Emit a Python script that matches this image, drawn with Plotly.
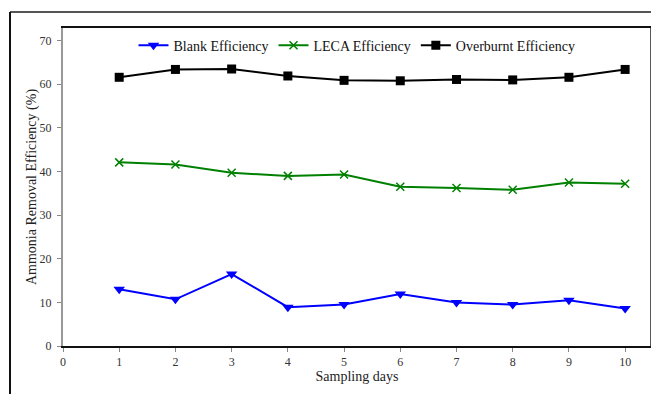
import plotly.graph_objects as go

days = [1, 2, 3, 4, 5, 6, 7, 8, 9, 10]
blank = [13.0, 10.7, 16.5, 8.9, 9.5, 11.9, 10.0, 9.5, 10.5, 8.6]
leca = [42.1, 41.6, 39.7, 39.0, 39.3, 36.5, 36.2, 35.8, 37.5, 37.2]
overburnt = [61.6, 63.4, 63.5, 61.9, 60.9, 60.8, 61.1, 61.0, 61.6, 63.4]
x_ticks = [0, 1, 2, 3, 4, 5, 6, 7, 8, 9, 10]
y_ticks = [0, 10, 20, 30, 40, 50, 60, 70]

FONT = "Liberation Serif"
OFF = 8  # page body margin offset
W, H = 659 - OFF, 394 - OFF
ML, MT = 63 - OFF, 28 - OFF
PR, PB = 651 - OFF, 346 - OFF
MR, MB = W - PR, H - PB
PW, PH = PR - ML, PB - MT

fig = go.Figure()
fig.add_trace(go.Scatter(x=days, y=blank, mode="lines+markers", name="Blank Efficiency",
                         line=dict(color="#0000ff", width=2),
                         marker=dict(symbol="triangle-down", size=10, color="#0000ff")))
fig.add_trace(go.Scatter(x=days, y=leca, mode="lines+markers", name="LECA Efficiency",
                         line=dict(color="#008000", width=2),
                         marker=dict(symbol="x-thin", size=8, color="#008000",
                                     line=dict(color="#008000", width=1.5))))
fig.add_trace(go.Scatter(x=days, y=overburnt, mode="lines+markers", name="Overburnt Efficiency",
                         line=dict(color="#000000", width=2),
                         marker=dict(symbol="square", size=9, color="#000000")))

def px_x(px):
    return (px - OFF - ML) / PW

def px_y(py):
    return (PB - (py - OFF)) / PH

shapes = [
    dict(type="line", xref="paper", yref="paper", x0=1, x1=1, y0=0, y1=1,
         line=dict(color="#222222", width=1.5)),
    dict(type="line", xref="paper", yref="paper", x0=px_x(10), x1=px_x(659), y0=px_y(12), y1=px_y(12),
         line=dict(color="#555555", width=2)),
    dict(type="line", xref="paper", yref="paper", x0=px_x(10), x1=px_x(10), y0=px_y(12), y1=px_y(394),
         line=dict(color="#111111", width=2)),
]

fig.update_layout(
    width=W, height=H,
    margin=dict(l=ML, r=MR, t=MT, b=MB),
    paper_bgcolor="white", plot_bgcolor="white",
    font=dict(family=FONT, color="#222222"),
    showlegend=True,
    legend=dict(orientation="h", x=0.5, xanchor="center", y=0.995, yanchor="top",
                font=dict(family=FONT, size=14, color="#111111"), bgcolor="rgba(0,0,0,0)",
                itemwidth=30),
    shapes=shapes,
    xaxis=dict(range=[0, 10.46], tickvals=x_ticks, ticktext=[str(t) for t in x_ticks],
               showgrid=False, zeroline=False, showline=True, linecolor="#111111", linewidth=1.5,
               mirror=True, ticks="outside", ticklen=4, tickcolor="#888888",
               tickfont=dict(family=FONT, size=12, color="#333333"),
               title=dict(text="Sampling days", font=dict(family=FONT, size=14, color="#222222"),
                          standoff=2)),
    yaxis=dict(range=[0, 72.9], tickvals=y_ticks, ticktext=[str(t) for t in y_ticks],
               showgrid=False, zeroline=False, showline=True, linecolor="#999999", linewidth=2,
               ticks="outside", ticklen=4, tickcolor="#888888", ticklabelstandoff=3,
               tickfont=dict(family=FONT, size=12, color="#333333"),
               title=dict(text="Ammonia Removal Efficiency (%)",
                          font=dict(family=FONT, size=14, color="#222222"), standoff=0)),
)

fig.write_html("out.html")
